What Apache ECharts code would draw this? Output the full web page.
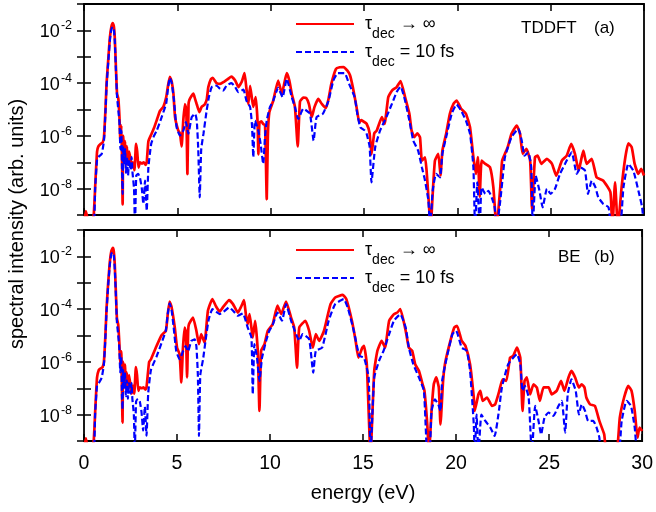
<!DOCTYPE html>
<html><head><meta charset="utf-8">
<script src="https://cdn.jsdelivr.net/npm/echarts@6/dist/echarts.min.js"></script>
<style>html,body{margin:0;padding:0;background:#fff}#c{width:656px;height:512px}</style>
</head><body><div id="c"></div>
<script>
// Values: [energy (eV), log10(spectral intensity)]
const tddftInf = [[0,-9.3],[0.1,-8.85],[0.2,-9.2],[0.35,-9.5],[0.52,-9.0],[0.6,-7.9],[0.7,-6.6],[0.77,-6.4],[0.9,-6.3],[1.0,-6.25],[1.07,-6.05],[1.15,-5.0],[1.21,-4.0],[1.3,-3.1],[1.39,-2.25],[1.47,-1.85],[1.54,-1.72],[1.6,-1.85],[1.65,-2.3],[1.71,-3.4],[1.77,-4.4],[1.84,-4.6],[1.9,-5.3],[1.95,-6.2],[2.0,-5.6],[2.04,-7.0],[2.07,-8.6],[2.1,-6.0],[2.15,-6.6],[2.2,-6.2],[2.25,-7.0],[2.3,-6.4],[2.36,-7.1],[2.42,-6.6],[2.5,-6.9],[2.56,-7.2],[2.62,-7.0],[2.7,-7.3],[2.79,-6.3],[2.85,-6.6],[2.92,-7.2],[3.0,-7.0],[3.1,-7.05],[3.2,-7.0],[3.3,-7.1],[3.36,-7.0],[3.45,-6.2],[3.6,-5.95],[3.75,-5.7],[3.9,-5.4],[4.07,-5.05],[4.25,-4.9],[4.4,-4.55],[4.5,-4.1],[4.6,-3.76],[4.7,-3.95],[4.79,-4.4],[4.88,-5.3],[5.05,-5.8],[5.14,-5.9],[5.23,-6.4],[5.32,-5.4],[5.41,-4.8],[5.48,-5.0],[5.54,-7.45],[5.6,-4.8],[5.64,-4.65],[5.75,-4.5],[5.86,-4.4],[5.95,-4.6],[6.04,-4.8],[6.18,-5.1],[6.3,-4.9],[6.4,-4.85],[6.48,-4.8],[6.58,-4.6],[6.66,-4.15],[6.8,-3.85],[6.9,-3.8],[7.0,-3.9],[7.1,-4.0],[7.29,-4.03],[7.5,-3.95],[7.7,-3.85],[7.9,-3.75],[8.1,-3.9],[8.27,-4.15],[8.45,-3.95],[8.6,-3.62],[8.7,-4.2],[8.8,-4.8],[8.9,-4.1],[9.0,-4.6],[9.07,-4.9],[9.2,-4.53],[9.3,-5.5],[9.34,-6.7],[9.4,-5.5],[9.5,-5.45],[9.6,-5.55],[9.7,-5.6],[9.79,-8.4],[9.85,-6.0],[9.93,-5.1],[10.14,-4.66],[10.4,-3.9],[10.6,-4.4],[10.86,-3.62],[11.0,-3.9],[11.13,-4.4],[11.3,-4.9],[11.45,-6.4],[11.57,-4.7],[11.75,-4.55],[11.9,-4.56],[12.05,-4.8],[12.2,-5.29],[12.35,-4.9],[12.55,-4.6],[12.75,-4.8],[12.96,-4.95],[13.1,-4.6],[13.25,-4.03],[13.5,-3.46],[13.7,-3.4],[13.9,-3.39],[14.1,-3.52],[14.25,-3.7],[14.4,-4.15],[14.6,-4.91],[14.75,-5.5],[14.85,-5.4],[14.96,-5.45],[15.14,-5.54],[15.3,-5.9],[15.4,-6.7],[15.55,-5.9],[15.68,-5.8],[15.96,-5.29],[16.1,-5.55],[16.3,-4.53],[16.5,-4.28],[16.75,-4.15],[16.96,-3.92],[17.2,-4.53],[17.43,-5.16],[17.55,-5.8],[17.7,-6.05],[17.85,-5.9],[18.0,-6.05],[18.1,-6.94],[18.27,-6.81],[18.45,-8.3],[18.57,-9.5],[18.68,-8.2],[18.8,-6.94],[18.98,-6.68],[19.1,-7.5],[19.2,-6.56],[19.4,-5.92],[19.6,-5.16],[19.8,-4.78],[19.96,-4.66],[20.2,-4.97],[20.46,-5.16],[20.68,-5.67],[20.86,-6.81],[21.0,-7.44],[21.1,-6.8],[21.2,-8.3],[21.3,-6.94],[21.5,-7.06],[21.75,-7.19],[21.93,-7.95],[22.1,-9.5],[22.3,-7.95],[22.4,-6.94],[22.55,-6.68],[22.7,-6.43],[22.9,-5.92],[23.18,-5.61],[23.36,-5.92],[23.5,-6.68],[23.7,-6.49],[23.9,-6.94],[24.0,-8.77],[24.16,-6.81],[24.3,-6.75],[24.5,-7.06],[24.8,-6.87],[25.07,-7.06],[25.3,-7.51],[25.6,-6.94],[25.86,-6.75],[26.1,-6.3],[26.3,-6.68],[26.5,-7.32],[26.75,-6.56],[26.93,-7.06],[27.2,-6.87],[27.46,-7.57],[27.82,-7.7],[28.2,-8.14],[28.3,-9.5],[28.45,-7.76],[28.6,-9.5],[28.8,-7.95],[29.0,-6.81],[29.16,-6.28],[29.34,-6.43],[29.5,-7.06],[29.7,-7.44],[29.85,-7.25],[30.0,-7.5]];
const tddft10 = [[0,-9.5],[0.5,-9.5],[0.6,-7.95],[0.7,-6.9],[0.77,-6.8],[0.95,-6.68],[1.07,-6.18],[1.15,-5.1],[1.21,-4.1],[1.3,-3.2],[1.39,-2.35],[1.47,-1.95],[1.54,-1.87],[1.6,-1.97],[1.65,-2.4],[1.71,-3.5],[1.77,-4.5],[1.84,-5.04],[1.9,-5.5],[1.95,-6.5],[2.0,-5.8],[2.04,-7.4],[2.07,-8.2],[2.1,-6.4],[2.15,-7.1],[2.2,-6.5],[2.25,-7.4],[2.3,-6.8],[2.36,-7.5],[2.42,-6.9],[2.5,-7.3],[2.55,-6.8],[2.6,-7.4],[2.68,-8.0],[2.73,-9.5],[2.8,-7.5],[2.9,-7.44],[3.0,-7.6],[3.09,-7.95],[3.18,-8.58],[3.27,-7.7],[3.36,-8.84],[3.45,-7.19],[3.6,-6.3],[3.75,-6.0],[3.9,-5.8],[4.16,-5.29],[4.4,-4.78],[4.5,-4.2],[4.6,-3.8],[4.7,-4.0],[4.82,-4.66],[4.96,-5.67],[5.14,-5.99],[5.32,-5.8],[5.46,-5.48],[5.59,-5.92],[5.77,-5.29],[5.95,-5.16],[6.04,-5.42],[6.12,-6.5],[6.2,-8.33],[6.28,-6.5],[6.4,-5.92],[6.57,-5.04],[6.7,-4.5],[6.84,-4.15],[7.1,-4.09],[7.29,-4.22],[7.46,-4.28],[7.64,-4.09],[7.9,-4.0],[8.1,-4.15],[8.27,-4.34],[8.54,-4.25],[8.7,-4.66],[8.9,-4.91],[9.0,-5.6],[9.07,-6.81],[9.16,-5.42],[9.34,-5.8],[9.46,-6.3],[9.6,-7.06],[9.7,-6.0],[9.79,-5.42],[9.96,-4.91],[10.14,-4.66],[10.4,-4.18],[10.64,-4.53],[10.86,-3.84],[11.13,-4.53],[11.3,-4.91],[11.48,-5.36],[11.75,-4.97],[12.1,-5.16],[12.3,-6.18],[12.46,-5.29],[12.8,-5.16],[13.1,-4.66],[13.36,-3.9],[13.6,-3.62],[13.96,-3.62],[14.2,-4.03],[14.5,-4.53],[14.64,-5.16],[14.8,-5.67],[15.05,-5.8],[15.14,-5.92],[15.3,-6.4],[15.4,-7.76],[15.6,-6.43],[15.86,-5.8],[16.2,-5.29],[16.5,-4.78],[16.75,-4.34],[16.96,-4.13],[17.2,-4.66],[17.43,-5.42],[17.64,-6.18],[17.9,-6.56],[18.1,-7.19],[18.27,-7.7],[18.45,-8.46],[18.54,-9.5],[18.68,-8.08],[18.86,-7.44],[19.07,-7.57],[19.2,-6.68],[19.4,-6.05],[19.7,-5.16],[19.96,-4.81],[20.2,-5.04],[20.46,-5.42],[20.68,-5.92],[20.86,-7.19],[20.95,-9.5],[21.07,-7.76],[21.2,-9.5],[21.3,-7.95],[21.5,-8.2],[21.66,-8.08],[21.84,-8.33],[22.0,-8.71],[22.1,-9.5],[22.3,-8.46],[22.45,-7.44],[22.55,-6.81],[22.9,-6.05],[23.27,-5.73],[23.45,-6.18],[23.6,-6.75],[23.8,-6.62],[23.96,-7.19],[24.04,-9.5],[24.2,-7.51],[24.4,-8.08],[24.57,-8.71],[24.8,-8.01],[25.0,-8.2],[25.23,-8.01],[25.5,-7.44],[25.77,-7.06],[25.95,-6.81],[26.13,-6.62],[26.4,-7.44],[26.6,-7.19],[26.84,-7.32],[27.0,-8.2],[27.2,-7.7],[27.4,-7.95],[27.55,-8.33],[27.82,-8.58],[28.1,-8.71],[28.27,-9.5],[28.7,-9.5],[28.9,-7.95],[29.16,-7.06],[29.43,-7.32],[29.7,-8.08],[29.9,-8.71],[30.0,-9.5]];
const beInf = [[0,-9.3],[0.1,-8.9],[0.2,-9.3],[0.35,-9.5],[0.52,-9.0],[0.6,-7.9],[0.7,-6.6],[0.8,-6.3],[0.9,-6.25],[1.0,-6.2],[1.07,-6.0],[1.15,-5.0],[1.21,-4.0],[1.3,-3.0],[1.39,-2.2],[1.47,-1.8],[1.55,-1.68],[1.6,-1.8],[1.65,-2.25],[1.71,-3.3],[1.77,-4.35],[1.84,-4.6],[1.9,-5.3],[1.95,-6.1],[2.0,-5.6],[2.04,-7.0],[2.07,-8.3],[2.1,-6.0],[2.15,-6.6],[2.2,-6.1],[2.25,-7.0],[2.3,-6.4],[2.36,-7.1],[2.42,-6.5],[2.5,-6.9],[2.56,-7.2],[2.62,-6.9],[2.7,-7.2],[2.79,-6.2],[2.85,-6.5],[2.92,-7.1],[3.0,-6.97],[3.1,-7.0],[3.2,-6.97],[3.3,-7.05],[3.36,-6.97],[3.5,-6.0],[3.6,-5.9],[3.9,-5.4],[4.16,-5.0],[4.4,-4.82],[4.5,-4.2],[4.6,-3.71],[4.7,-3.9],[4.88,-4.7],[5.0,-5.46],[5.14,-5.71],[5.23,-6.78],[5.32,-5.46],[5.41,-4.7],[5.48,-4.9],[5.54,-6.59],[5.6,-4.8],[5.64,-4.57],[5.86,-4.32],[6.04,-4.82],[6.18,-5.33],[6.3,-4.95],[6.48,-5.27],[6.66,-4.06],[6.9,-3.62],[7.1,-3.9],[7.29,-4.09],[7.5,-3.9],[7.8,-3.66],[8.0,-3.8],[8.27,-4.13],[8.45,-3.9],[8.6,-3.66],[8.7,-4.2],[8.8,-4.57],[8.9,-4.19],[9.07,-5.08],[9.2,-4.44],[9.34,-5.58],[9.43,-7.86],[9.52,-5.58],[9.7,-5.33],[9.88,-4.82],[10.14,-4.57],[10.4,-3.87],[10.6,-4.19],[10.86,-3.71],[11.13,-4.32],[11.3,-4.7],[11.45,-6.22],[11.57,-4.7],[11.9,-4.44],[12.1,-4.82],[12.3,-5.46],[12.46,-4.95],[12.64,-5.2],[12.9,-4.82],[13.25,-3.81],[13.5,-3.56],[13.9,-3.46],[14.1,-3.62],[14.4,-4.44],[14.6,-5.2],[14.75,-5.84],[14.96,-5.46],[15.05,-5.39],[15.2,-6.09],[15.4,-9.5],[15.6,-6.34],[15.77,-5.58],[16.0,-5.2],[16.18,-5.46],[16.4,-4.44],[16.66,-4.19],[16.84,-4.13],[17.0,-4.0],[17.29,-4.82],[17.46,-5.46],[17.64,-5.58],[17.8,-6.09],[18.0,-6.34],[18.2,-6.85],[18.3,-7.1],[18.45,-8.37],[18.54,-9.5],[18.68,-7.86],[18.8,-6.85],[18.93,-6.59],[19.07,-6.97],[19.16,-8.37],[19.3,-6.72],[19.4,-6.09],[19.6,-5.46],[19.9,-4.7],[20.05,-4.63],[20.3,-5.2],[20.5,-5.39],[20.75,-6.09],[20.95,-7.35],[21.0,-7.86],[21.2,-7.23],[21.3,-7.1],[21.43,-7.48],[21.66,-7.35],[21.93,-7.67],[22.1,-7.61],[22.3,-7.16],[22.5,-6.66],[22.7,-6.72],[22.9,-5.84],[23.07,-5.77],[23.27,-5.46],[23.45,-5.84],[23.57,-7.86],[23.68,-6.72],[23.8,-6.59],[23.98,-7.23],[24.16,-6.85],[24.34,-6.97],[24.5,-7.48],[24.7,-6.97],[24.97,-6.97],[25.14,-7.23],[25.4,-7.1],[25.64,-6.72],[25.82,-7.1],[26.04,-6.59],[26.2,-6.34],[26.4,-6.59],[26.6,-6.97],[26.75,-6.85],[26.9,-6.97],[27.0,-7.35],[27.2,-7.61],[27.46,-7.67],[27.7,-8.24],[27.96,-8.75],[28.1,-9.5],[28.6,-9.5],[28.8,-8.11],[29.03,-7.35],[29.25,-6.91],[29.43,-7.1],[29.6,-7.86],[29.75,-8.87],[29.86,-8.49],[30.0,-8.62]];
const be10 = [[0,-9.5],[0.5,-9.5],[0.6,-7.95],[0.7,-6.9],[0.8,-6.8],[0.95,-6.6],[1.07,-6.1],[1.15,-5.1],[1.21,-4.1],[1.3,-3.1],[1.39,-2.3],[1.47,-1.9],[1.55,-1.85],[1.6,-1.95],[1.65,-2.4],[1.71,-3.4],[1.77,-4.5],[1.84,-5.0],[1.9,-5.5],[1.95,-6.4],[2.0,-5.8],[2.04,-7.3],[2.07,-7.8],[2.1,-6.3],[2.15,-7.0],[2.2,-6.4],[2.25,-7.3],[2.3,-6.7],[2.36,-7.4],[2.42,-6.8],[2.5,-7.2],[2.55,-6.8],[2.6,-7.4],[2.68,-8.0],[2.73,-9.5],[2.8,-7.5],[2.9,-7.4],[3.0,-7.5],[3.09,-7.9],[3.18,-8.6],[3.27,-7.7],[3.36,-8.8],[3.45,-7.2],[3.6,-6.3],[3.9,-5.8],[4.16,-5.3],[4.4,-4.8],[4.5,-4.2],[4.6,-3.78],[4.7,-4.0],[4.82,-4.7],[4.96,-5.6],[5.14,-5.9],[5.32,-5.6],[5.46,-5.4],[5.59,-5.6],[5.77,-5.2],[5.95,-5.15],[6.04,-5.4],[6.12,-6.5],[6.18,-8.81],[6.25,-6.5],[6.4,-5.9],[6.57,-5.0],[6.7,-4.4],[6.9,-4.0],[7.1,-4.1],[7.29,-4.19],[7.5,-4.1],[7.8,-3.94],[8.0,-4.05],[8.27,-4.25],[8.54,-4.16],[8.8,-4.7],[9.0,-5.08],[9.07,-7.23],[9.16,-5.33],[9.3,-5.84],[9.43,-6.72],[9.57,-5.84],[9.79,-5.2],[9.96,-4.82],[10.14,-4.6],[10.4,-4.13],[10.64,-4.44],[10.86,-3.81],[11.13,-4.44],[11.4,-4.95],[11.57,-5.2],[11.75,-4.95],[12.1,-5.14],[12.32,-6.41],[12.46,-5.58],[12.8,-5.46],[13.15,-4.44],[13.5,-3.81],[13.96,-3.62],[14.2,-4.0],[14.5,-4.82],[14.8,-5.77],[15.05,-5.84],[15.3,-6.59],[15.4,-9.5],[15.6,-6.59],[15.86,-5.96],[16.1,-5.58],[16.4,-4.95],[16.66,-4.44],[17.0,-4.19],[17.29,-4.7],[17.46,-5.46],[17.7,-6.09],[18.0,-6.59],[18.27,-7.1],[18.45,-9.5],[18.57,-9.5],[18.68,-7.86],[18.86,-7.42],[19.04,-7.61],[19.16,-7.86],[19.25,-6.72],[19.46,-5.96],[19.8,-4.95],[20.0,-4.82],[20.3,-5.46],[20.57,-5.58],[20.75,-6.34],[20.95,-8.37],[21.0,-9.5],[21.1,-8.0],[21.2,-9.5],[21.36,-8.0],[21.57,-8.24],[21.84,-8.49],[22.07,-8.81],[22.3,-7.86],[22.46,-6.97],[22.8,-6.09],[23.27,-5.71],[23.45,-6.09],[23.57,-7.1],[23.7,-6.91],[23.9,-7.35],[24.07,-9.5],[24.25,-7.67],[24.43,-8.24],[24.57,-8.75],[24.75,-8.11],[24.97,-7.92],[25.23,-8.05],[25.5,-7.67],[25.68,-7.48],[25.86,-8.68],[26.0,-7.23],[26.2,-6.66],[26.43,-7.1],[26.6,-7.99],[26.75,-7.61],[26.93,-7.86],[27.1,-8.24],[27.37,-8.24],[27.55,-8.49],[27.7,-8.87],[27.8,-9.5],[28.7,-9.5],[28.9,-8.24],[29.16,-7.48],[29.4,-7.67],[29.6,-8.49],[29.75,-9.5],[30.0,-9.5]];

const xTicks = [0, 5, 10, 15, 20, 25, 30];
const yLabelExponents = [-2, -4, -6, -8];
const seriesNames = ['τdec → ∞', 'τdec = 10 fs'];
const panelLabels = [['TDDFT', '(a)'], ['BE', '(b)']];

const FONT = '"Liberation Sans", Arial, Helvetica, sans-serif';
const toData = arr => arr.map(p => [p[0], Math.pow(10, p[1])]);

const chart = echarts.init(document.getElementById('c'), null, {renderer: 'canvas'});

const grids = [
  {left: 84, top: 4, width: 560, height: 211},
  {left: 84, top: 230, width: 560, height: 211}
].map(g => Object.assign(g, {show: true, borderColor: '#000', borderWidth: 1.8, backgroundColor: 'transparent'}));

const tick = {show: true, inside: true, length: 7, lineStyle: {color: '#000', width: 1.5}};

function xAx(gi, pos, showLabel) {
  const ax = {
    type: 'value', gridIndex: gi, position: pos, min: xTicks[0], max: xTicks[xTicks.length - 1], interval: 5,
    axisLine: {show: false}, axisTick: tick, splitLine: {show: false},
    axisLabel: {show: showLabel, color: '#000', fontFamily: FONT, fontSize: 19.5, margin: 13}
  };
  if (showLabel) {
    ax.name = 'energy (eV)';
    ax.nameLocation = 'middle';
    ax.nameGap = 42;
    ax.nameTextStyle = {color: '#000', fontFamily: FONT, fontSize: 20};
  }
  return ax;
}
function yAx(gi, pos, showLabel) {
  return {
    type: 'log', logBase: 10, gridIndex: gi, position: pos, min: 1e-9, max: 1e-1, splitNumber: 8,
    axisLine: {show: false}, axisTick: tick, splitLine: {show: false}, minorTick: {show: false},
    axisLabel: {
      show: showLabel, margin: 12,
      formatter: v => {
        const e = Math.round(Math.log10(v));
        return yLabelExponents.indexOf(e) >= 0 ? '{a|10}{b|' + e + '}' : '';
      },
      rich: {
        a: {fontFamily: FONT, fontSize: 18, color: '#000', lineHeight: 22, verticalAlign: 'bottom'},
        b: {fontFamily: FONT, fontSize: 12.5, color: '#000', lineHeight: 22, verticalAlign: 'top', padding: [0, 0, 0, 1]}
      }
    }
  };
}

const legendRich = {
  g: {width: 6},
  t: {fontFamily: FONT, fontSize: 18, color: '#000', lineHeight: 20, verticalAlign: 'middle'},
  s: {fontFamily: FONT, fontSize: 14, color: '#000', lineHeight: 20, verticalAlign: 'bottom', padding: [0, 0, -7, 0]}
};
const legendFmt = n => n === seriesNames[0] ? '{g|}{t|τ}{s|dec}{t| → ∞}' : '{g|}{t|τ}{s|dec}{t| = 10 fs}';
function legend(top) {
  return {left: 295, top: top, orient: 'vertical', itemWidth: 58, itemHeight: 12, itemGap: 2, padding: 0,
    data: seriesNames, formatter: legendFmt, textStyle: {rich: legendRich}, selectedMode: false,
    itemStyle: {opacity: 0, borderWidth: 0}};
}

function lineSeries(name, data, xi, yi, isRed) {
  return {
    type: 'line', name: name, data: toData(data), xAxisIndex: xi, yAxisIndex: yi,
    showSymbol: false, symbol: 'none', smooth: 0.15, animation: false, clip: true,
    lineStyle: isRed ? {color: '#ff0000', width: 2.7} : {color: '#0000ff', width: 2.2, type: [6, 3]},
    itemStyle: {color: isRed ? '#ff0000' : '#0000ff'},
    z: isRed ? 2 : 3
  };
}

const textEl = (txt, x, y, size, extra) => Object.assign({
  type: 'text', x: x, y: y,
  style: {text: txt, font: size + 'px ' + FONT, fill: '#000', textAlign: 'left', align: 'left', textVerticalAlign: 'middle', verticalAlign: 'middle'}
}, extra || {});

const option = {
  animation: false,
  backgroundColor: '#fff',
  grid: grids,
  xAxis: [xAx(0, 'bottom', false), xAx(0, 'top', false), xAx(1, 'bottom', true), xAx(1, 'top', false)],
  yAxis: [yAx(0, 'left', true), yAx(0, 'right', false), yAx(1, 'left', true), yAx(1, 'right', false)],
  legend: [legend(15), legend(241)],
  series: [
    lineSeries(seriesNames[0], tddftInf, 0, 0, true),
    lineSeries(seriesNames[1], tddft10, 0, 0, false),
    lineSeries(seriesNames[0], beInf, 2, 2, true),
    lineSeries(seriesNames[1], be10, 2, 2, false)
  ],
  graphic: [
    textEl(panelLabels[0][0], 521, 28, 17),
    textEl(panelLabels[0][1], 594, 28, 17),
    textEl(panelLabels[1][0], 558, 257, 17),
    textEl(panelLabels[1][1], 594, 257, 17),
    {type: 'text', x: 17, y: 224, rotation: Math.PI / 2,
     style: {text: 'spectral intensity (arb. units)', font: '20px ' + FONT, fill: '#000',
             textAlign: 'center', align: 'center', textVerticalAlign: 'middle', verticalAlign: 'middle'}}
  ]
};
chart.setOption(option);
</script>
</body></html>
